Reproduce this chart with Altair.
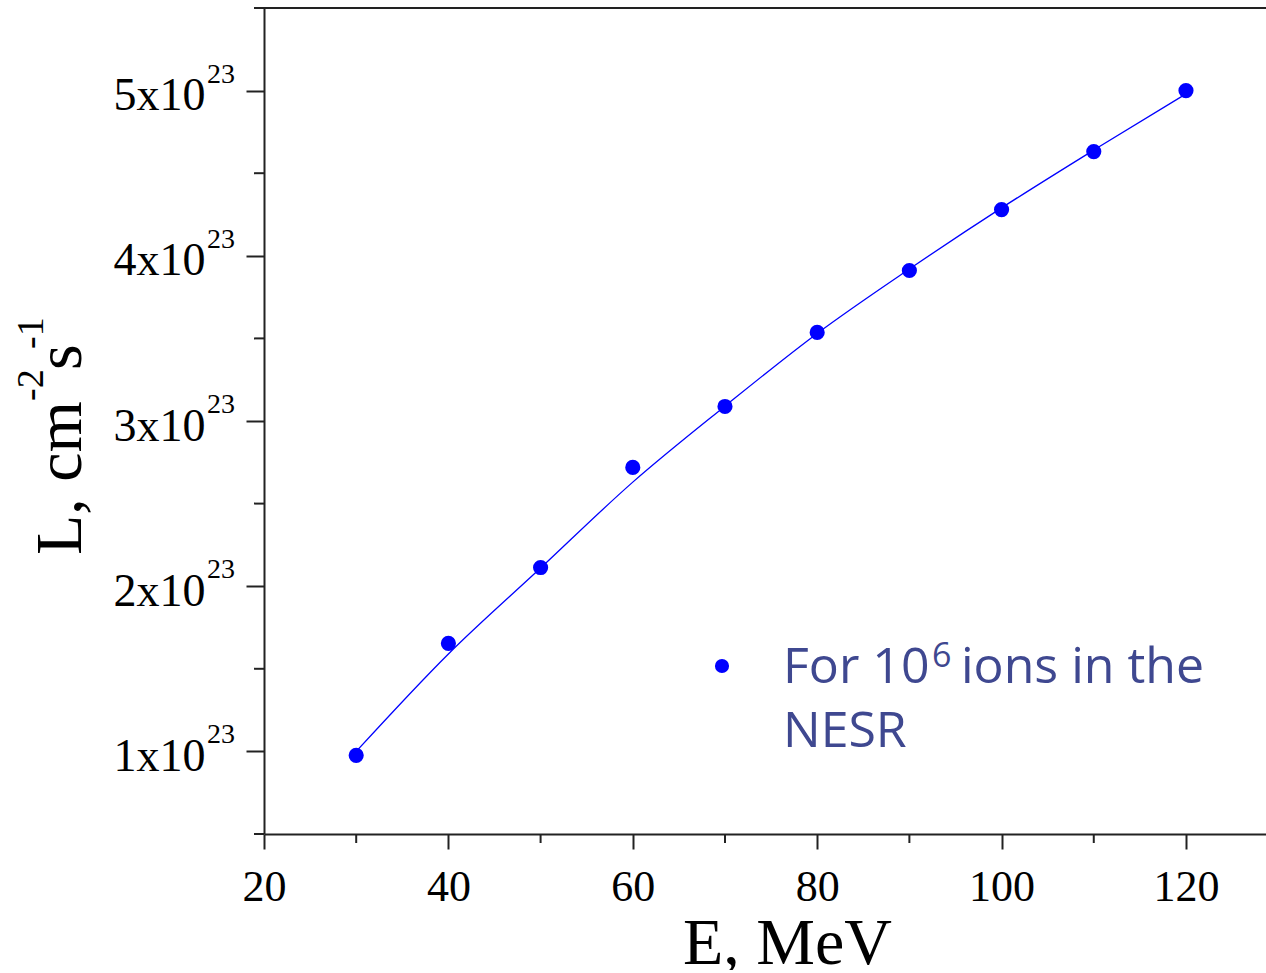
import altair as alt
import pandas as pd

# ---- data (L in units of 1e23 cm^-2 s^-1) ----
energy = [30, 40, 50, 60, 70, 80, 90, 100, 110, 120]
lum = [0.976, 1.654, 2.113, 2.719, 3.088, 3.536, 3.911, 4.280, 4.631, 5.000]

fit_energy = [30, 40, 50, 60, 70, 80, 90, 100, 110, 120]
fit_lum = [1.00, 1.59, 2.11, 2.63, 3.09, 3.53, 3.92, 4.29, 4.64, 4.98]

x_major = [20, 40, 60, 80, 100, 120]
x_minor = [30, 50, 70, 90, 110]
y_major = [1, 2, 3, 4, 5]
y_minor = [0.5, 1.5, 2.5, 3.5, 4.5, 5.5]
y_exponent = "23"

W, H = 1002, 826
SERIF = "Liberation Serif"
SANS = "Open Sans"
BLUE = "#0000ff"
TEXTBLUE = "#3f4890"
AXC = "#222222"

pts = pd.DataFrame({"E": energy, "L": lum})
fit = pd.DataFrame({"E": fit_energy, "L": fit_lum})
xmin_df = pd.DataFrame({"E": x_minor})
ymin_df = pd.DataFrame({"L": y_minor})
ymaj_df = pd.DataFrame({"L": y_major, "sup": [y_exponent] * len(y_major)})

xscale = alt.Scale(domain=[20, 128.68], nice=False, zero=False)
yscale = alt.Scale(domain=[0.5, 5.5], nice=False, zero=False)

xaxis = alt.Axis(
    values=x_major, format="d", grid=False,
    title="E, MeV", titleFont=SERIF, titleFontSize=66, titleFontWeight="normal",
    titleColor="black", titleX=523, titleY=129, titleAlign="center",
    titleBaseline="alphabetic", titleAngle=0,
    labelFont=SERIF, labelFontSize=44, labelColor="black", labelPadding=51,
    labelBaseline="alphabetic", labelFlush=False, labelOverlap=False,
    tickSize=15, tickWidth=2, tickColor=AXC, domainColor=AXC, domainWidth=2,
)
yaxis = alt.Axis(
    values=y_major, grid=False, title="",
    labelExpr="datum.value + 'x10'",
    labelFont=SERIF, labelFontSize=46, labelColor="black", labelPadding=41,
    labelBaseline="alphabetic", labelOffset=19, labelAlign="right",
    labelFlush=False, labelOverlap=False,
    tickSize=18, tickWidth=2, tickColor=AXC, domainColor=AXC, domainWidth=2,
)

X = alt.X("E:Q", scale=xscale, axis=xaxis, title="E, MeV")
Y = alt.Y("L:Q", scale=yscale, axis=yaxis, title="")

line = alt.Chart(fit).mark_line(color=BLUE, strokeWidth=1.3, interpolate="monotone").encode(
    x=X, y=Y
)
points = alt.Chart(pts).mark_circle(color=BLUE, opacity=1, size=230).encode(x=X, y=Y)

minor_x = alt.Chart(xmin_df).mark_rule(color=AXC, strokeWidth=2).encode(
    x=X, y=alt.value(H), y2=alt.value(H + 9),
)
minor_y = alt.Chart(ymin_df).mark_rule(color=AXC, strokeWidth=2).encode(
    y=Y, x=alt.value(-10), x2=alt.value(0),
)
sup = alt.Chart(ymaj_df).mark_text(
    font=SERIF, fontSize=28, color="black", align="left", baseline="alphabetic", dy=-8
).encode(
    y=Y, x=alt.value(-57), text="sup:N",
)

one = alt.Data(values=[{}])
top_border = alt.Chart(one).mark_rule(color=AXC, strokeWidth=2).encode(
    x=alt.value(0), x2=alt.value(W), y=alt.value(0)
)


def txt(s, x, y, size, font=SERIF, color="black", angle=0):
    kw = dict(font=font, fontSize=size, color=color, align="left", baseline="alphabetic")
    if angle:
        kw["angle"] = angle
    return alt.Chart(one).mark_text(**kw).encode(
        x=alt.value(x), y=alt.value(y), text=alt.value(s)
    )


# y-axis title with superscripts (rotated)
ytitle = [
    txt("L, cm", -183, 547, 66, angle=270),
    txt("-2", -221, 393, 38, angle=270),
    txt("s", -183, 362, 66, angle=270),
    txt("-1", -221, 341, 38, angle=270),
]

# legend-like annotation
legend_dot = alt.Chart(one).mark_circle(color=BLUE, opacity=1, size=200).encode(
    x=alt.value(458), y=alt.value(658)
)
legend_txt = [
    txt("For 10", 519, 675, 50, font=SANS, color=TEXTBLUE),
    txt("6", 668, 659, 34, font=SANS, color=TEXTBLUE),
    txt("ions in the", 697, 675, 50, font=SANS, color=TEXTBLUE),
    txt("NESR", 519, 739, 50, font=SANS, color=TEXTBLUE),
]

chart = alt.layer(
    line, points, minor_x, minor_y, sup, top_border, *ytitle, legend_dot, *legend_txt
).properties(
    width=W, height=H,
    autosize=alt.AutoSizeParams(type="none"),
    padding={"left": 264, "top": 8, "right": 0, "bottom": 136},
    background="white",
).configure_view(stroke=None)

chart.save("out.html", embed_options={"renderer": "svg", "actions": False})
